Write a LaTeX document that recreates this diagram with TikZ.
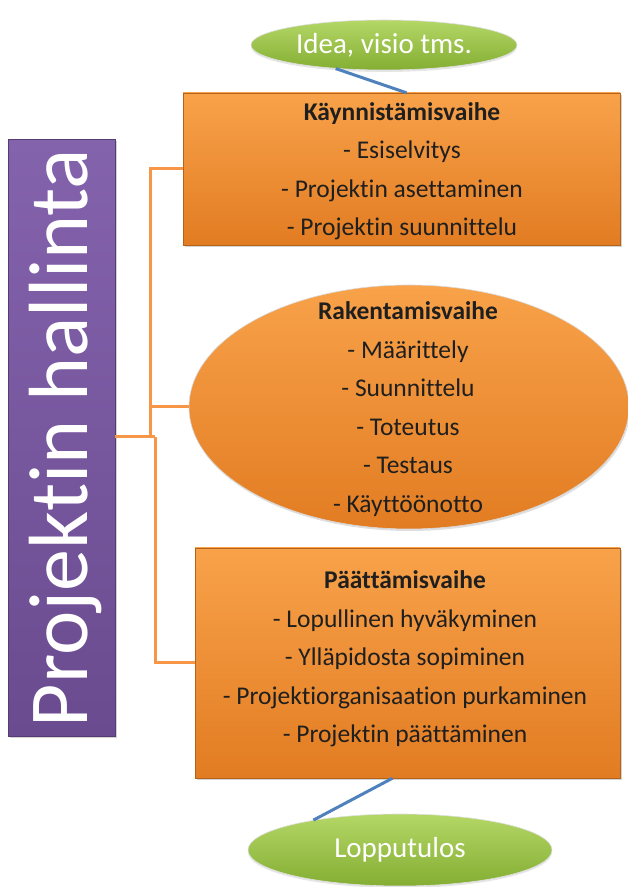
\documentclass[tikz,border=0pt]{standalone}
\usepackage{fontspec}
\setmainfont{Carlito}[Ligatures={NoCommon}]
\usetikzlibrary{shapes.geometric,shadows,calc}

\definecolor{orangeTop}{HTML}{F8A24A}
\definecolor{orangeBot}{HTML}{E27C22}
\definecolor{orangeLine}{HTML}{F79646}
\definecolor{purpleTop}{HTML}{8463AD}
\definecolor{purpleBot}{HTML}{6A4B8F}
\definecolor{greenTop}{HTML}{B4D766}
\definecolor{greenBot}{HTML}{84AE33}
\definecolor{blueLine}{HTML}{4F81BD}
\definecolor{itemText}{HTML}{1F1F1F}

\tikzset{
  phasebox/.style={rectangle, draw=orangeBot!80!black, line width=0.4pt,
    top color=orangeTop, bottom color=orangeBot, inner sep=0pt,
    drop shadow={opacity=0.35, shadow xshift=1.5pt, shadow yshift=-2pt}},
  phaseoval/.style={ellipse, draw=white!70!gray, line width=0.6pt,
    top color=orangeTop, bottom color=orangeBot, inner sep=0pt,
    drop shadow={opacity=0.25, shadow xshift=1pt, shadow yshift=-2pt}},
  goaloval/.style={ellipse, draw=white!75!gray, line width=0.6pt,
    top color=greenTop, bottom color=greenBot, inner sep=0pt,
    text=white, font=\fontsize{29}{32}\selectfont,
    drop shadow={opacity=0.2, shadow xshift=0pt, shadow yshift=-2pt}},
  phasetext/.style={align=center, text=itemText,
    font=\fontsize{25.5}{38.5}\selectfont},
  bracket/.style={draw=orangeLine, line width=3pt},
  flow/.style={draw=blueLine, line width=3pt}
}

\begin{document}
\begin{tikzpicture}[x=1pt,y=1pt]
\useasboundingbox (0,0) rectangle (628,887);

% vertical title bar
\node[rectangle, inner sep=0pt, minimum width=107pt, minimum height=597pt,
      top color=purpleTop, bottom color=purpleBot, draw=purpleBot!80!black,
      drop shadow={opacity=0.35, shadow xshift=1.5pt, shadow yshift=-2pt}]
      (title) at (61.5,449) {};
\node[rotate=90, text=white, font=\fontsize{84}{90}\selectfont]
      (titletext) at ($(title.center)+(4,0)$) {Projektin hallinta};

% phases
\node[phasebox, minimum width=437pt, minimum height=152pt]
      (start) at (401.5,718) {};
\node[phasetext] (starttext) at (402,716)
      {\textbf{Käynnistämisvaihe}\\
       - Esiselvitys\\ - Projektin asettaminen\\ - Projektin suunnittelu};

\node[phaseoval, minimum width=440pt, minimum height=244pt]
      (build) at (409,480) {};
\node[phasetext] (buildtext) at (408,478)
      {\textbf{Rakentamisvaihe}\\
       - Määrittely\\ - Suunnittelu\\ - Toteutus\\ - Testaus\\ - Käyttöönotto};

\node[phasebox, minimum width=425pt, minimum height=230pt]
      (finish) at (407.5,224) {};
\node[phasetext] (finishtext) at (405,228)
      {\textbf{Päättämisvaihe}\\
       - Lopullinen hyväkyminen\\ - Ylläpidosta sopiminen\\
       - Projektiorganisaation purkaminen\\ - Projektin päättäminen};

% start and end ovals
\node[goaloval, minimum width=266pt, minimum height=50pt]
      (idea) at (384,842) {Idea, visio tms.};
\node[goaloval, minimum width=304pt, minimum height=72pt]
      (result) at (400,37) {Lopputulos};

% bracket from the title bar to the phases
\coordinate (busA) at (150,450);
\coordinate (busB) at (155,450);
\draw[bracket] (title.east |- busA) -- (busB);
\draw[bracket] (busA) |- (start.west);
\draw[bracket] (busA) |- (build.west);
\draw[bracket] (busB) |- (finish.west);

% flow from idea to result
\draw[flow] (idea.206) -- ($(start.north)+(5,0)$);
\draw[flow] ($(finish.south)+(-15,0)$) -- (result.161);
\end{tikzpicture}
\end{document}
